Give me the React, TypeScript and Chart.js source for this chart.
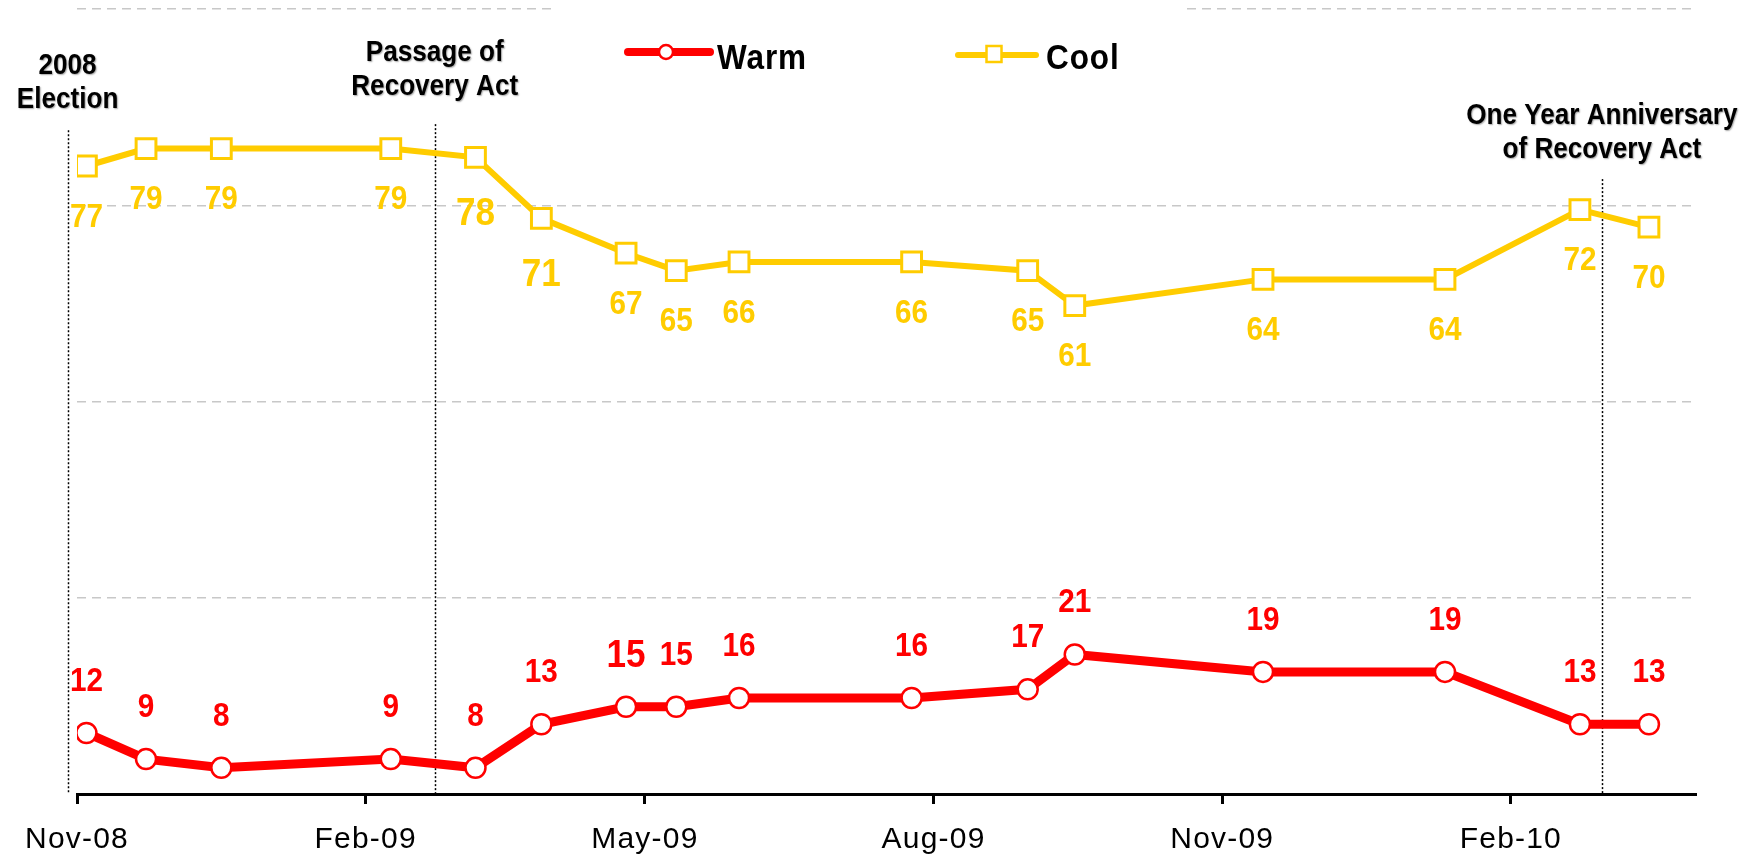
import React, { useEffect, useRef } from 'react';
import { Chart, registerables } from 'chart.js';

Chart.register(...registerables);

// ---- data ----
const surveyDates = [
  '2008-11-04', '2008-11-23', '2008-12-17', '2009-02-09', '2009-03-08', '2009-03-29',
  '2009-04-25', '2009-05-11', '2009-05-31', '2009-07-25', '2009-08-31', '2009-09-15',
  '2009-11-14', '2010-01-11', '2010-02-23', '2010-03-17',
];
const warmValues = [12, 9, 8, 9, 8, 13, 15, 15, 16, 16, 17, 21, 19, 19, 13, 13];
const coolValues = [77, 79, 79, 79, 78, 71, 67, 65, 66, 66, 65, 61, 64, 64, 72, 70];

const tickDates = ['2008-11-01', '2009-02-01', '2009-05-01', '2009-08-01', '2009-11-01', '2010-02-01'];
const tickLabels = ['Nov-08', 'Feb-09', 'May-09', 'Aug-09', 'Nov-09', 'Feb-10'];
const axisStart = '2008-11-01';
const axisEnd = '2010-04-01';

const yMin = 5;
const yMax = 95;
const yStep = 22.5;

const eventDates = ['2008-10-29', '2009-02-23', '2010-03-02'];
const eventLabels = [
  ['2008', 'Election'],
  ['Passage of', 'Recovery Act'],
  ['One Year Anniversary', 'of Recovery Act'],
];
const eventLineTop = [81.1, 81.8, 75.5];
const eventTextBase = [83.7, 85.1, 77.9];

const warmLarge = [6];
const coolLarge = [4, 5];

const RED = '#FF0000';
const YELLOW = '#FFCC00';
const FONT = '"Liberation Sans", Arial, Helvetica, sans-serif';

const dayOf = (s: string) => (Date.parse(s) - Date.parse(axisStart)) / 86400000;

function fillScaled(
  ctx: CanvasRenderingContext2D,
  text: string,
  x: number,
  y: number,
  size: number,
  sx: number,
  align: CanvasTextAlign,
) {
  ctx.save();
  ctx.translate(x, y);
  ctx.scale(sx, 1);
  ctx.font = `bold ${size}px ${FONT}`;
  ctx.textAlign = align;
  ctx.textBaseline = 'alphabetic';
  ctx.fillText(text, 0, 0);
  ctx.restore();
}

export default function App() {
  const ref = useRef<HTMLCanvasElement | null>(null);

  useEffect(() => {
    if (!ref.current) return;

    const spacingPlugin = {
      id: 'spacingPlugin',
      beforeDraw(chart: any) {
        (chart.ctx as any).letterSpacing = '1.2px';
      },
    };

    const annotationLines = {
      id: 'annotationLines',
      beforeDatasetsDraw(chart: any) {
        const { ctx, chartArea, scales } = chart;
        ctx.save();
        ctx.strokeStyle = '#000';
        ctx.lineWidth = 1.5;
        ctx.setLineDash([2, 2]);
        eventDates.forEach((d, i) => {
          const x = Math.round(scales.x.getPixelForValue(dayOf(d))) + 0.5;
          const yTop = scales.y.getPixelForValue(eventLineTop[i]);
          ctx.beginPath();
          ctx.moveTo(x, yTop);
          ctx.lineTo(x, chartArea.bottom);
          ctx.stroke();
        });
        ctx.restore();
      },
    };

    const labelsPlugin = {
      id: 'labelsPlugin',
      afterDatasetsDraw(chart: any) {
        const { ctx } = chart;
        ctx.save();
        (ctx as any).letterSpacing = '0px';
        const draw = (dsIndex: number, values: number[], large: number[], color: string, below: boolean) => {
          const meta = chart.getDatasetMeta(dsIndex);
          meta.data.forEach((pt: any, i: number) => {
            const big = large.includes(i);
            const size = big ? 39 : 33;
            ctx.fillStyle = color;
            const centerY = below ? pt.y + (big ? 54 : 49) : pt.y - 54;
            fillScaled(ctx, String(values[i]), pt.x, centerY + size * 0.358, size, 0.9, 'center');
          });
        };
        draw(0, warmValues, warmLarge, RED, false);
        draw(1, coolValues, coolLarge, YELLOW, true);
        ctx.restore();
      },
    };

    const overlayPlugin = {
      id: 'overlayPlugin',
      afterDraw(chart: any) {
        const { ctx, scales } = chart;
        ctx.save();
        (ctx as any).letterSpacing = '0px';
        // event texts
        ctx.fillStyle = '#000';
        ctx.shadowColor = 'rgba(0,0,0,0.35)';
        ctx.shadowOffsetX = 1;
        ctx.shadowOffsetY = 1;
        ctx.shadowBlur = 1.5;
        eventDates.forEach((d, i) => {
          const x = scales.x.getPixelForValue(dayOf(d));
          const base = scales.y.getPixelForValue(eventTextBase[i]);
          const lines = eventLabels[i];
          lines.forEach((line, j) => {
            fillScaled(ctx, line, x, base - (lines.length - 1 - j) * 34, 29, 0.9, 'center');
          });
        });
        ctx.restore();

        // legend
        ctx.save();
        (ctx as any).letterSpacing = '0px';
        ctx.fillStyle = '#fff';
        ctx.fillRect(556, 0, 630, 30);
        const datasets = chart.data.datasets;
        // Warm
        ctx.lineCap = 'round';
        ctx.strokeStyle = datasets[0].borderColor;
        ctx.lineWidth = 8;
        ctx.beginPath();
        ctx.moveTo(628, 52);
        ctx.lineTo(710, 52);
        ctx.stroke();
        ctx.beginPath();
        ctx.arc(666, 52, 7, 0, Math.PI * 2);
        ctx.fillStyle = '#fff';
        ctx.fill();
        ctx.lineWidth = 2.5;
        ctx.stroke();
        // Cool
        ctx.strokeStyle = datasets[1].borderColor;
        ctx.lineWidth = 6;
        ctx.beginPath();
        ctx.moveTo(958, 55);
        ctx.lineTo(1036, 55);
        ctx.stroke();
        ctx.fillStyle = '#fff';
        ctx.fillRect(986.5, 46, 15, 16);
        ctx.lineWidth = 2.5;
        ctx.lineCap = 'butt';
        ctx.strokeRect(986.5, 46, 15, 16);
        // texts
        ctx.fillStyle = '#000';
        (ctx as any).letterSpacing = '1px';
        fillScaled(ctx, datasets[0].label, 717, 69, 35, 0.9, 'left');
        fillScaled(ctx, datasets[1].label, 1046, 69, 35, 0.9, 'left');
        ctx.restore();
        (ctx as any).letterSpacing = '0px';
      },
    };

    const chart = new Chart(ref.current, {
      type: 'line',
      data: {
        datasets: [
          {
            label: 'Warm',
            data: surveyDates.map((d, i) => ({ x: dayOf(d), y: warmValues[i] })),
            borderColor: RED,
            borderWidth: 9,
            pointStyle: 'circle',
            pointRadius: 10,
            pointBorderWidth: 2.5,
            pointBackgroundColor: '#fff',
            pointBorderColor: RED,
            tension: 0,
          },
          {
            label: 'Cool',
            data: surveyDates.map((d, i) => ({ x: dayOf(d), y: coolValues[i] })),
            borderColor: YELLOW,
            borderWidth: 6,
            pointStyle: 'rect',
            pointRadius: 14,
            pointBorderWidth: 3,
            pointBackgroundColor: '#fff',
            pointBorderColor: YELLOW,
            tension: 0,
          },
        ],
      },
      options: {
        responsive: false,
        animation: false,
        events: [],
        layout: { autoPadding: false, padding: { left: 77, right: 58, top: 9, bottom: 0 } },
        plugins: {
          legend: { display: false },
          tooltip: { enabled: false },
        },
        scales: {
          x: {
            type: 'linear',
            min: dayOf(axisStart),
            max: dayOf(axisEnd),
            afterBuildTicks: (scale: any) => {
              scale.ticks = tickDates.map((d) => ({ value: dayOf(d) }));
            },
            afterFit: (scale: any) => {
              scale.height = 63;
            },
            ticks: {
              autoSkip: false,
              maxRotation: 0,
              padding: 18,
              color: '#000',
              font: { family: FONT, size: 30 },
              callback: (value: any) => {
                const idx = tickDates.findIndex((d) => dayOf(d) === value);
                return idx >= 0 ? tickLabels[idx] : '';
              },
            },
            grid: {
              display: true,
              drawOnChartArea: false,
              drawTicks: true,
              tickLength: 10,
              tickColor: '#000',
              tickWidth: 3,
            },
            border: { display: true, color: '#000', width: 3 },
          },
          y: {
            min: yMin,
            max: yMax,
            afterBuildTicks: (scale: any) => {
              const t = [];
              for (let v = yMin; v <= yMax + 1e-9; v += yStep) t.push({ value: v });
              scale.ticks = t;
            },
            afterFit: (scale: any) => {
              scale.width = 0;
            },
            ticks: { display: false },
            grid: { color: '#C8C8C8', lineWidth: 1.5, drawTicks: false },
            border: { display: false, dash: [9, 6] },
          },
        },
      },
      plugins: [spacingPlugin, annotationLines, labelsPlugin, overlayPlugin],
    } as any);

    return () => chart.destroy();
  }, []);

  return (
    <div style={{ position: 'fixed', left: 0, top: 0, width: 1754, height: 857, background: '#fff' }}>
      <canvas ref={ref} width={1754} height={857} style={{ display: 'block' }} />
    </div>
  );
}
